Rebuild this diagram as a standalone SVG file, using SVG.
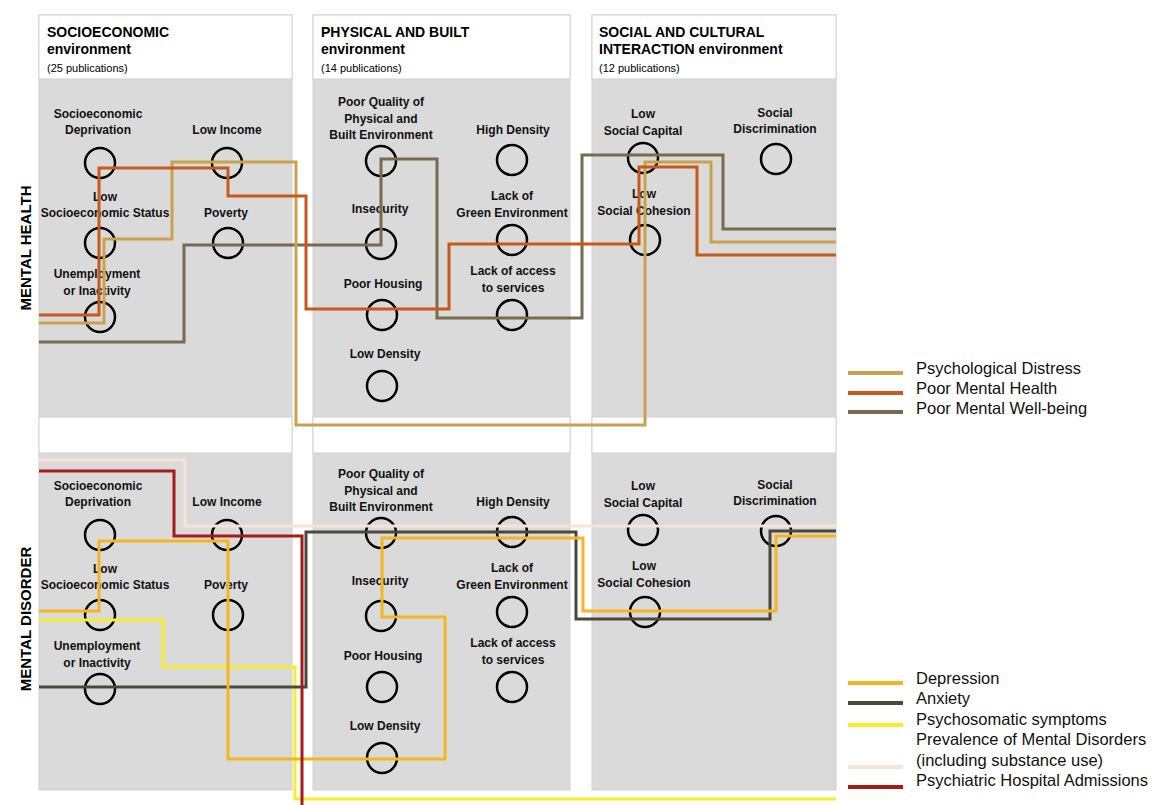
<svg xmlns="http://www.w3.org/2000/svg" width="1157" height="805" viewBox="0 0 1157 805">
<style>
.col{fill:#dadada;stroke:#d2d2d2;stroke-width:1}
.hdr{fill:#ffffff;stroke:#d2d2d2;stroke-width:1}
.h1{font-family:"Liberation Sans",Arial,sans-serif;font-weight:bold;font-size:14px;fill:#000}
.h2{font-family:"Liberation Sans",Arial,sans-serif;font-size:11px;fill:#000}
.lbl{font-family:"Liberation Sans",Arial,sans-serif;font-weight:bold;font-size:12px;fill:#111;text-anchor:middle}
.side{font-family:"Liberation Sans",Arial,sans-serif;font-weight:bold;font-size:15px;fill:#000;text-anchor:middle}
.leg{font-family:"Liberation Sans",Arial,sans-serif;font-size:16.5px;fill:#111}
.nd{fill:none;stroke:#000;stroke-width:2.5}
.ln{fill:none;stroke-width:3;stroke-linejoin:miter}
.lg{stroke-width:4}
.tan{stroke:#c9a24e}.org{stroke:#c55a1a}.wb{stroke:#776b4f}
.dep{stroke:#f5b520}.anx{stroke:#4a4838}.psy{stroke:#f6ee2c}.prev{stroke:#f7e4d8}.red{stroke:#a8191c}
</style>
<rect width="1157" height="805" fill="#ffffff"/>
<g id="panels">
<rect class="col" x="39" y="15" width="253" height="775"/>
<rect class="col" x="313" y="15" width="257" height="775"/>
<rect class="col" x="592" y="15" width="244" height="775"/>
<rect class="hdr" x="39" y="15" width="253" height="64"/>
<rect class="hdr" x="313" y="15" width="257" height="64"/>
<rect class="hdr" x="592" y="15" width="244" height="64"/>
<rect class="hdr" x="39" y="417" width="253" height="36"/>
<rect class="hdr" x="313" y="417" width="257" height="36"/>
<rect class="hdr" x="592" y="417" width="244" height="36"/>
</g>
<g id="headers">
<text class="h1" x="47" y="37">SOCIOECONOMIC</text>
<text class="h1" x="47" y="54">environment</text>
<text class="h2" x="47" y="72">(25 publications)</text>
<text class="h1" x="321" y="37">PHYSICAL AND BUILT</text>
<text class="h1" x="321" y="54">environment</text>
<text class="h2" x="321" y="72">(14 publications)</text>
<text class="h1" x="599" y="37">SOCIAL AND CULTURAL</text>
<text class="h1" x="599" y="54">INTERACTION environment</text>
<text class="h2" x="599" y="72">(12 publications)</text>
<text class="side" transform="translate(31,248) rotate(-90)">MENTAL HEALTH</text>
<text class="side" transform="translate(31,619) rotate(-90)">MENTAL DISORDER</text>
</g>
<g id="mh-nodes">
<g id="mh-socdep"><text class="lbl" x="98" y="118">Socioeconomic</text><text class="lbl" x="98" y="134">Deprivation</text><circle class="nd" cx="100" cy="163" r="15"/></g>
<g id="mh-lowinc"><text class="lbl" x="227" y="134">Low Income</text><circle class="nd" cx="227" cy="163" r="15"/></g>
<g id="mh-lowses"><text class="lbl" x="105" y="201">Low</text><text class="lbl" x="105" y="217">Socioeconomic Status</text><circle class="nd" cx="100" cy="243" r="15"/></g>
<g id="mh-pov"><text class="lbl" x="226" y="217">Poverty</text><circle class="nd" cx="228" cy="243" r="15"/></g>
<g id="mh-unemp"><text class="lbl" x="97" y="278">Unemployment</text><text class="lbl" x="97" y="295">or Inactivity</text><circle class="nd" cx="100" cy="317" r="15"/></g>
<g id="mh-poorq"><text class="lbl" x="381" y="106">Poor Quality of</text><text class="lbl" x="381" y="123">Physical and</text><text class="lbl" x="381" y="139">Built Environment</text><circle class="nd" cx="381" cy="161" r="15"/></g>
<g id="mh-highd"><text class="lbl" x="513" y="134">High Density</text><circle class="nd" cx="512" cy="160" r="15"/></g>
<g id="mh-insec"><text class="lbl" x="380" y="213">Insecurity</text><circle class="nd" cx="381" cy="244" r="15"/></g>
<g id="mh-green"><text class="lbl" x="512" y="200">Lack of</text><text class="lbl" x="512" y="217">Green Environment</text><circle class="nd" cx="512" cy="240" r="15"/></g>
<g id="mh-house"><text class="lbl" x="383" y="288">Poor Housing</text><circle class="nd" cx="382" cy="315" r="15"/></g>
<g id="mh-access"><text class="lbl" x="513" y="275">Lack of access</text><text class="lbl" x="513" y="292">to services</text><circle class="nd" cx="512" cy="315" r="15"/></g>
<g id="mh-lowd"><text class="lbl" x="385" y="358">Low Density</text><circle class="nd" cx="382" cy="386" r="15"/></g>
<g id="mh-cap"><text class="lbl" x="643" y="118">Low</text><text class="lbl" x="643" y="135">Social Capital</text><circle class="nd" cx="643" cy="158" r="15"/></g>
<g id="mh-disc"><text class="lbl" x="775" y="117">Social</text><text class="lbl" x="775" y="133">Discrimination</text><circle class="nd" cx="776" cy="159" r="15"/></g>
<g id="mh-coh"><text class="lbl" x="644" y="198">Low</text><text class="lbl" x="644" y="215">Social Cohesion</text><circle class="nd" cx="645" cy="240" r="15"/></g>
</g>
<g id="md-nodes">
<g id="md-socdep"><text class="lbl" x="98" y="490">Socioeconomic</text><text class="lbl" x="98" y="506">Deprivation</text><circle class="nd" cx="100" cy="535" r="15"/></g>
<g id="md-lowinc"><text class="lbl" x="227" y="506">Low Income</text><circle class="nd" cx="227" cy="535" r="15"/></g>
<g id="md-lowses"><text class="lbl" x="105" y="573">Low</text><text class="lbl" x="105" y="589">Socioeconomic Status</text><circle class="nd" cx="100" cy="615" r="15"/></g>
<g id="md-pov"><text class="lbl" x="226" y="589">Poverty</text><circle class="nd" cx="228" cy="615" r="15"/></g>
<g id="md-unemp"><text class="lbl" x="97" y="650">Unemployment</text><text class="lbl" x="97" y="667">or Inactivity</text><circle class="nd" cx="100" cy="689" r="15"/></g>
<g id="md-poorq"><text class="lbl" x="381" y="478">Poor Quality of</text><text class="lbl" x="381" y="495">Physical and</text><text class="lbl" x="381" y="511">Built Environment</text><circle class="nd" cx="381" cy="533" r="15"/></g>
<g id="md-highd"><text class="lbl" x="513" y="506">High Density</text><circle class="nd" cx="512" cy="532" r="15"/></g>
<g id="md-insec"><text class="lbl" x="380" y="585">Insecurity</text><circle class="nd" cx="381" cy="616" r="15"/></g>
<g id="md-green"><text class="lbl" x="512" y="572">Lack of</text><text class="lbl" x="512" y="589">Green Environment</text><circle class="nd" cx="512" cy="612" r="15"/></g>
<g id="md-house"><text class="lbl" x="383" y="660">Poor Housing</text><circle class="nd" cx="382" cy="687" r="15"/></g>
<g id="md-access"><text class="lbl" x="513" y="647">Lack of access</text><text class="lbl" x="513" y="664">to services</text><circle class="nd" cx="512" cy="687" r="15"/></g>
<g id="md-lowd"><text class="lbl" x="385" y="730">Low Density</text><circle class="nd" cx="382" cy="758" r="15"/></g>
<g id="md-cap"><text class="lbl" x="643" y="490">Low</text><text class="lbl" x="643" y="507">Social Capital</text><circle class="nd" cx="643" cy="530" r="15"/></g>
<g id="md-disc"><text class="lbl" x="775" y="489">Social</text><text class="lbl" x="775" y="505">Discrimination</text><circle class="nd" cx="776" cy="531" r="15"/></g>
<g id="md-coh"><text class="lbl" x="644" y="570">Low</text><text class="lbl" x="644" y="587">Social Cohesion</text><circle class="nd" cx="645" cy="612" r="15"/></g>
</g>
<g id="connectors">
<path class="ln wb" d="M39,342 H184 V245 H381 V159 H437 V318 H582 V155 H723 V229 H836"/>
<path class="ln tan" d="M39,323 H104 V239 H172 V162 H296 V425 H645 V162 H711 V242 H836"/>
<path class="ln org" d="M39,315 H99 V168 H228 V196 H306 V309 H449 V244 H639 V167 H697 V255 H836"/>
<path class="ln prev" d="M39,460 H185 V526 H836"/>
<path class="ln psy" d="M39,620 H163 V667 H295 V799 H836"/>
<path class="ln anx" d="M39,687 H306 V532 H576 V619 H770 V531 H836"/>
<path class="ln dep" d="M39,611 H99 V541 H228 V759 H445 V617 H382 V538 H583 V611 H776 V536 H836"/>
<path class="ln red" d="M39,471 H174 V536 H302 V805"/>
</g>
<g id="legend-mh">
<line class="ln lg tan" x1="848" y1="373" x2="903" y2="373"/>
<line class="ln lg org" x1="848" y1="393" x2="903" y2="393"/>
<line class="ln lg wb" x1="848" y1="412" x2="903" y2="412"/>
<text class="leg" x="916" y="374">Psychological Distress</text>
<text class="leg" x="916" y="394">Poor Mental Health</text>
<text class="leg" x="916" y="414">Poor Mental Well-being</text>
</g>
<g id="legend-md">
<line class="ln lg dep" x1="848" y1="683" x2="903" y2="683"/>
<line class="ln lg anx" x1="848" y1="703" x2="903" y2="703"/>
<line class="ln lg psy" x1="848" y1="725" x2="903" y2="725"/>
<line class="ln lg prev" x1="848" y1="767" x2="903" y2="767"/>
<line class="ln lg red" x1="848" y1="787" x2="903" y2="787"/>
<text class="leg" x="916" y="684">Depression</text>
<text class="leg" x="916" y="704">Anxiety</text>
<text class="leg" x="916" y="725">Psychosomatic symptoms</text>
<text class="leg" x="916" y="745">Prevalence of Mental Disorders</text>
<text class="leg" x="916" y="766">(including substance use)</text>
<text class="leg" x="916" y="786">Psychiatric Hospital Admissions</text>
</g>
</svg>
